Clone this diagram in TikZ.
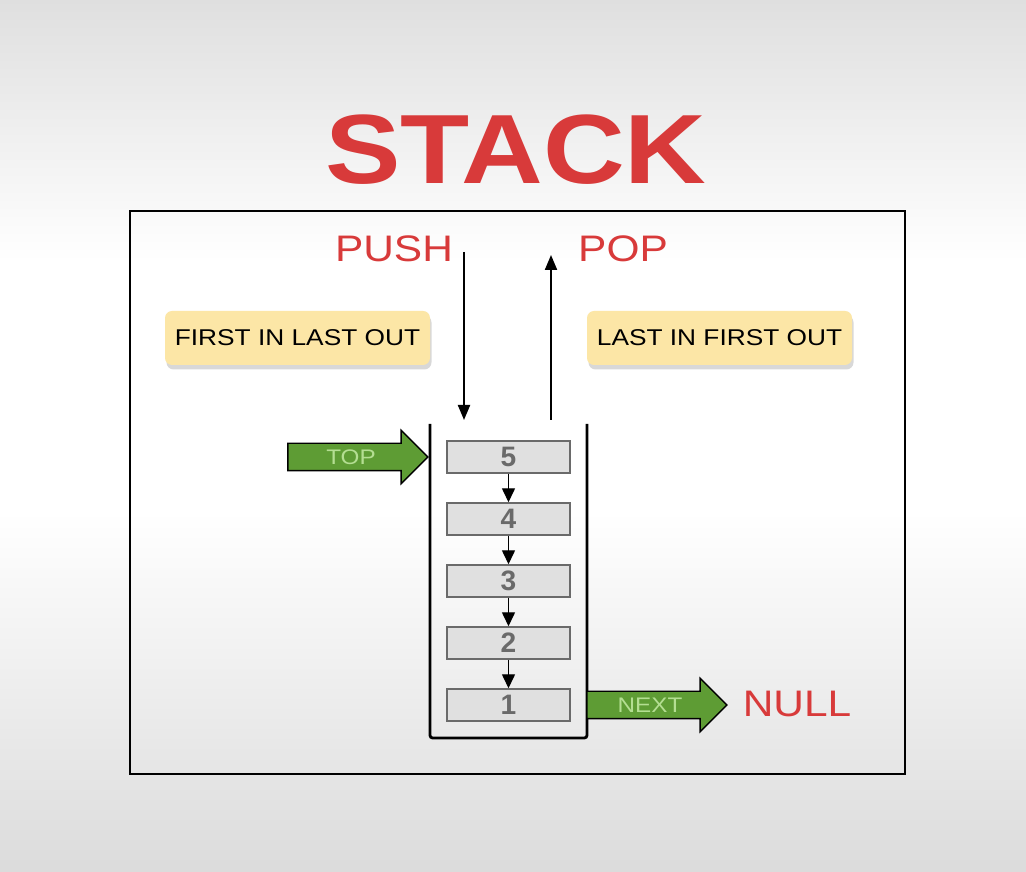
\documentclass[tikz,border=0pt]{standalone}
\usepackage{fontspec}
\setsansfont{Liberation Sans}
\newfontfamily\techfont[FakeStretch=1.15]{Liberation Sans}
\usetikzlibrary{arrows.meta,positioning,shapes.arrows,shadows}
\definecolor{titlered}{HTML}{D83A3A}
\definecolor{notered}{HTML}{FCE6A6}
\definecolor{arrowgreen}{HTML}{5E9C34}
\definecolor{lightgreen}{HTML}{B4DE92}
\definecolor{itemgray}{HTML}{E0E0E0}
\definecolor{itemtext}{HTML}{6A6A6A}

\begin{document}
\begin{tikzpicture}[
    every node/.style={font=\techfont},
    heading/.style={text=titlered, font=\techfont\bfseries\fontsize{56}{60}\selectfont},
    op/.style={text=titlered, font=\techfont\fontsize{21}{24}\selectfont},
    note/.style={draw=none, rounded corners=4pt, fill=notered, minimum width=5.3cm, minimum height=1.08cm,
        font=\techfont\fontsize{13}{15}\selectfont,
        drop shadow={shadow xshift=0.03cm, shadow yshift=-0.09cm, opacity=0.3, fill=gray}},
    item/.style={draw=itemtext, fill=itemgray, line width=0.8pt, minimum width=2.46cm, minimum height=0.64cm,
        inner sep=0pt, text=itemtext, font=\sffamily\bfseries\fontsize{16}{16}\selectfont},
    pointer/.style={single arrow, draw=black, line width=0.8pt, fill=arrowgreen, text=lightgreen,
        font=\techfont\fontsize{12}{12}\selectfont, minimum height=2.8cm, single arrow head extend=0.26cm,
        text height=0.3cm, text depth=0pt, inner ysep=0.11cm},
    opline/.style={-{Triangle[length=3mm, width=2.4mm]}, line width=1.2pt},
    link/.style={-{Triangle[length=2.8mm, width=2.6mm]}, line width=0.8pt},
    tube/.style={line width=1.6pt, rounded corners=1.5pt},
]
% background, fixes the size of the page
\useasboundingbox (0,0) rectangle (20.52,17.44);
\fill[white] (0,0) rectangle (20.52,17.44);
\shade[top color=gray!25, bottom color=white] (0,12.2) rectangle (20.52,17.44);
\shade[top color=white, bottom color=gray!28] (0,0) rectangle (20.52,7.2);

% title and frame
\node[heading] (title) at (10.32,14.44) {STACK};
\draw[line width=1.2pt] (2.6,1.96) rectangle (18.1,13.22);

% push / pop
\node[op] (push) at (7.88,12.46) {PUSH};
\node[op] (pop) at (12.46,12.46) {POP};
\coordinate (pushin) at (9.28,12.4);
\coordinate (pushend) at (9.28,9.04);
\coordinate (popstart) at (11.02,9.04);
\coordinate (popout) at (11.02,12.34);
\draw[opline] (pushin) -- (pushend);
\draw[opline] (popstart) -- (popout);

% notes
\node[note] (filo) at (5.95,10.68) {FIRST IN LAST OUT};
\node[note] (lifo) at (14.39,10.68) {LAST IN FIRST OUT};

% the stack itself
\draw[tube] (8.6,8.96) -- (8.6,2.68) -- (11.74,2.68) -- (11.74,8.96);
\foreach \n [count=\i] in {5,4,3,2,1}
    \node[item] (n\n) at (10.17,{8.3-(\i-1)*1.24}) {\n};
\foreach \a/\b in {5/4,4/3,3/2,2/1}
    \draw[link] (n\a) -- (n\b);

% top and next pointers
\node[pointer] (top) at (7.02,8.3) {TOP};
\node[pointer] (next) at (13.0,3.34) {NEXT};
\node[op] (null) at (15.94,3.36) {NULL};

\end{tikzpicture}
\end{document}
